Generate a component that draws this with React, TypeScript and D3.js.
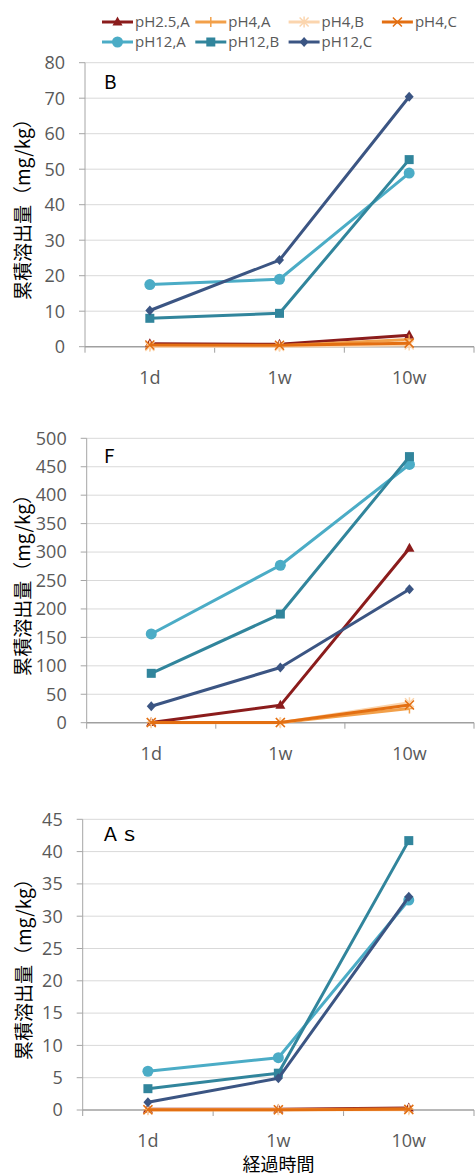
import React from 'react';
import * as d3 from 'd3';

// Elapsed-time categories shared by all three panels
const categories = ['1d', '1w', '10w'];

// Series definitions (legend order = drawing order)
const seriesNames = ['pH2.5,A', 'pH4,A', 'pH4,B', 'pH4,C', 'pH12,A', 'pH12,B', 'pH12,C'];
const seriesColors = ['#8b1c1c', '#f2a04a', '#fbd5ae', '#e36f12', '#4bacc6', '#31859c', '#3b5583'];
const seriesMarkers = ['triangle', 'plus', 'star', 'cross', 'circle', 'square', 'diamond'];

// Cumulative leaching (mg/kg), one row per series, columns follow categories
const boronValues = [
  [0.8, 0.7, 3.2],
  [0.3, 0.3, 2.0],
  [0.1, 0.1, 0.5],
  [0.5, 0.4, 1.0],
  [17.5, 19.0, 48.9],
  [8.0, 9.4, 52.7],
  [10.2, 24.4, 70.4],
];
const fluorineValues = [
  [0.5, 30.5, 306.6],
  [0.2, 0.2, 25],
  [0.1, 0.1, 35],
  [0.3, 0.3, 31],
  [156, 276.8, 454],
  [86.8, 191, 467.8],
  [29, 97, 234.5],
];
const arsenicValues = [
  [0.1, 0.1, 0.3],
  [0.05, 0.05, 0.15],
  [0.02, 0.02, 0.05],
  [0.05, 0.05, 0.1],
  [6.0, 8.1, 32.5],
  [3.3, 5.7, 41.7],
  [1.2, 4.9, 33.0],
];

const boronTicks = [0, 10, 20, 30, 40, 50, 60, 70, 80];
const fluorineTicks = [0, 50, 100, 150, 200, 250, 300, 350, 400, 450, 500];
const arsenicTicks = [0, 5, 10, 15, 20, 25, 30, 35, 40, 45];

const yTitle = '累積溶出量（mg/kg）';
const xTitle = '経過時間';

const FONT = '"Open Sans", "Noto Sans CJK JP", sans-serif';
const JP = '"Noto Sans CJK JP", sans-serif';
const TICK_COLOR = '#595959';

type PanelSpec = {
  label: string;
  values: number[][];
  ticks: number[];
  left: number;
  right: number;
  top: number;
  bottom: number;
  labelY: number;
  titleX: number;
};

const panels: PanelSpec[] = [
  { label: 'B', values: boronValues, ticks: boronTicks, left: 85, right: 474, top: 62.7, bottom: 346.7, labelY: 89, titleX: 23 },
  { label: 'F', values: fluorineValues, ticks: fluorineTicks, left: 86.7, right: 474, top: 438.3, bottom: 722.7, labelY: 463, titleX: 23.5 },
  { label: 'Ａｓ', values: arsenicValues, ticks: arsenicTicks, left: 82.7, right: 474, top: 819.3, bottom: 1110, labelY: 841, titleX: 24 },
];

function Marker({ kind, x, y, color }: { kind: string; x: number; y: number; color: string }) {
  switch (kind) {
    case 'triangle':
      return <path d={`M${x},${y - 5.5}L${x + 5},${y + 3.5}L${x - 5},${y + 3.5}Z`} fill={color} />;
    case 'plus':
      return (
        <path d={`M${x - 4.5},${y}L${x + 4.5},${y}M${x},${y - 5}L${x},${y + 5}`} stroke={color} strokeWidth={1.5} fill="none" />
      );
    case 'star':
      return (
        <path
          d={`M${x - 4.5},${y - 4.5}L${x + 4.5},${y + 4.5}M${x + 4.5},${y - 4.5}L${x - 4.5},${y + 4.5}M${x},${y - 5.5}L${x},${y + 5.5}`}
          stroke={color}
          strokeWidth={1.5}
          fill="none"
        />
      );
    case 'cross':
      return (
        <path d={`M${x - 4.5},${y - 4.5}L${x + 4.5},${y + 4.5}M${x + 4.5},${y - 4.5}L${x - 4.5},${y + 4.5}`} stroke={color} strokeWidth={1.5} fill="none" />
      );
    case 'circle':
      return <circle cx={x} cy={y} r={5.5} fill={color} />;
    case 'square':
      return <rect x={x - 4.5} y={y - 4.5} width={9} height={9} fill={color} />;
    case 'diamond':
      return <path d={`M${x},${y - 5}L${x + 4.5},${y}L${x},${y + 5}L${x - 4.5},${y}Z`} fill={color} />;
    default:
      return null;
  }
}

function Panel({ spec }: { spec: PanelSpec }) {
  const x = d3.scaleBand<string>().domain(categories).range([spec.left, spec.right]);
  const yMax = spec.ticks[spec.ticks.length - 1];
  const y = d3.scaleLinear().domain([0, yMax]).range([spec.bottom, spec.top]);
  const cx = (c: string) => (x(c) ?? 0) + x.bandwidth() / 2;
  const line = d3
    .line<number>()
    .x((_, i) => cx(categories[i]))
    .y((v) => y(v));
  const boundaries = [...categories.map((c) => x(c) ?? 0), spec.right];
  const midY = (spec.top + spec.bottom) / 2;

  return (
    <g>
      {/* horizontal gridlines with outward ticks */}
      {spec.ticks.map((t) => (
        <g key={t}>
          {t !== 0 && (
            <line x1={spec.left} x2={spec.right} y1={y(t)} y2={y(t)} stroke="#d9d9d9" strokeWidth={1} />
          )}
          <line x1={spec.left - 6} x2={spec.left} y1={y(t)} y2={y(t)} stroke="#a6a6a6" strokeWidth={1} />
          <text
            x={spec.left - 20}
            y={y(t)}
            dy="0.35em"
            textAnchor="end"
            fontFamily={FONT}
            fontSize={18}
            fill={TICK_COLOR}
          >
            {t}
          </text>
        </g>
      ))}
      {/* y axis */}
      <line x1={spec.left} x2={spec.left} y1={spec.top} y2={spec.bottom} stroke="#a6a6a6" strokeWidth={1} />
      {/* x axis */}
      <line x1={spec.left} x2={spec.right} y1={spec.bottom} y2={spec.bottom} stroke="#a0a0a0" strokeWidth={1.5} />
      {boundaries.map((b, i) => (
        <line key={i} x1={b} x2={b} y1={spec.bottom} y2={spec.bottom + 6} stroke="#a0a0a0" strokeWidth={1} />
      ))}
      {categories.map((c) => (
        <text key={c} x={cx(c)} y={spec.bottom + 37} textAnchor="middle" fontFamily={FONT} fontSize={18} fill={TICK_COLOR}>
          {c}
        </text>
      ))}
      {/* y title */}
      <text
        transform={`translate(${spec.titleX},${midY}) rotate(-90)`}
        textAnchor="middle"
        dy="0.35em"
        fontFamily={JP}
        fontSize={19}
        fill="#000"
      >
        {yTitle}
      </text>
      {/* element label */}
      <text x={spec.label.length > 1 ? 101 : 104} y={spec.labelY} fontFamily={JP} fontSize={19} fill="#000">
        {spec.label}
      </text>
      {/* series */}
      {spec.values.map((vals, si) => (
        <g key={si}>
          <path d={line(vals) ?? ''} fill="none" stroke={seriesColors[si]} strokeWidth={3} strokeLinejoin="round" />
          {vals.map((v, i) => (
            <Marker key={i} kind={seriesMarkers[si]} x={cx(categories[i])} y={y(v)} color={seriesColors[si]} />
          ))}
        </g>
      ))}
    </g>
  );
}

function Legend() {
  const startX = 102;
  const stepX = 93.3;
  const rows = [22, 42];
  return (
    <g>
      {seriesNames.map((name, i) => {
        const row = i < 4 ? 0 : 1;
        const col = i < 4 ? i : i - 4;
        const lx = startX + col * stepX;
        const ly = rows[row];
        return (
          <g key={name}>
            <line x1={lx} x2={lx + 31} y1={ly} y2={ly} stroke={seriesColors[i]} strokeWidth={3} />
            <Marker kind={seriesMarkers[i]} x={lx + 15.5} y={ly} color={seriesColors[i]} />
            <text x={lx + 33} y={ly} dy="0.36em" fontFamily={FONT} fontSize={15} fill={TICK_COLOR}>
              {name}
            </text>
          </g>
        );
      })}
    </g>
  );
}

export default function App() {
  return (
    <svg
      width={476}
      height={1175}
      style={{ position: 'absolute', left: 0, top: 0, background: '#fff' }}
    >
      <rect width={476} height={1175} fill="#fff" />
      <Legend />
      {panels.map((p) => (
        <Panel key={p.label} spec={p} />
      ))}
      <text x={278.4} y={1171} textAnchor="middle" fontFamily={JP} fontSize={18} fill="#000">
        {xTitle}
      </text>
    </svg>
  );
}
